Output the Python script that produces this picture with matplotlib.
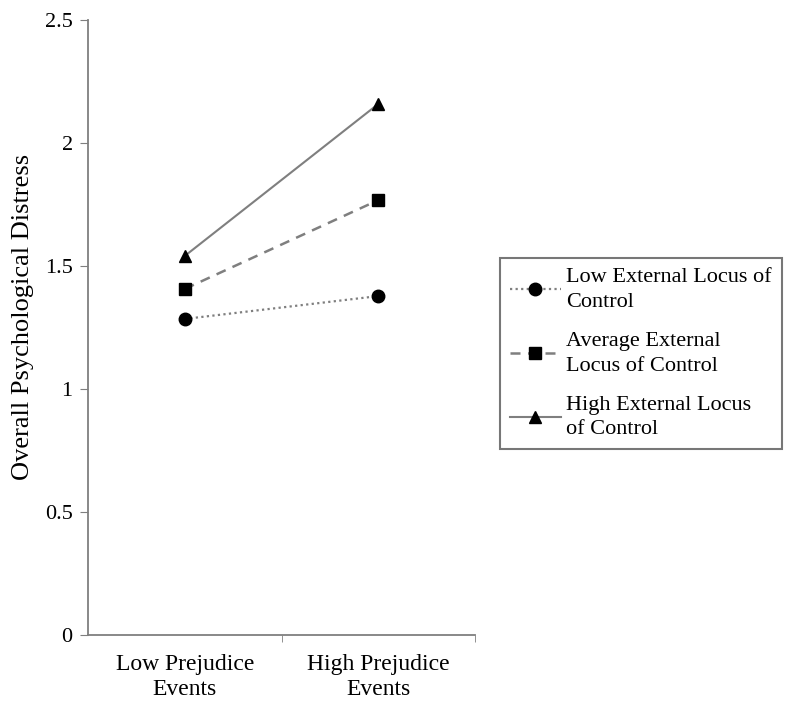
import matplotlib.pyplot as plt
import numpy as np

plt.rcParams['font.family'] = ['Liberation Serif', 'DejaVu Serif']

# datos
categorias = ['Low Prejudice\nEvents', 'High Prejudice\nEvents']
bajo = [1.285, 1.378]
promedio = [1.407, 1.768]
alto = [1.541, 2.159]
etiquetas = ['Low External Locus of\nControl',
             'Average External\nLocus of Control',
             'High External Locus\nof Control']

fig = plt.figure(figsize=(7.87, 7.02), dpi=100)
ax = fig.add_axes([0.1118, 0.0954, 0.4918, 0.876])

x = np.arange(len(categorias))
gris = '#7f7f7f'
ax.plot(x, bajo, linestyle=(0, (1, 1.5)), color=gris, lw=1.6,
        marker='o', ms=9, mfc='black', mec='black', label=etiquetas[0])
ax.plot(x, promedio, linestyle=(0, (4, 3)), color=gris, lw=1.8,
        marker='s', ms=9, mfc='black', mec='black', label=etiquetas[1])
ax.plot(x, alto, linestyle='-', color=gris, lw=1.5,
        marker='^', ms=9, mfc='black', mec='black', label=etiquetas[2])

ax.set_xlim(-0.5, 1.5)
ax.set_ylim(0, 2.5)
ax.set_yticks([0, 0.5, 1, 1.5, 2, 2.5])
ax.set_yticklabels(['0', '0.5', '1', '1.5', '2', '2.5'])
ax.set_xticks(x)
ax.set_xticklabels(categorias)
ax.tick_params(axis='x', which='major', length=0, labelsize=17, pad=14)
for t in ax.get_xticklabels():
    t.set_linespacing(1.25)
ax.set_xticks([0.5, 1.5], minor=True)
ax.tick_params(axis='x', which='minor', length=5, color=gris, direction='out')
ax.tick_params(axis='y', length=6, color=gris, labelsize=16, pad=5)
ax.set_ylabel('Overall Psychological Distress', fontsize=19)
ax.yaxis.set_label_coords(-0.14, 0.517)

for s in ['top', 'right']:
    ax.spines[s].set_visible(False)
for s in ['left', 'bottom']:
    ax.spines[s].set_color(gris)
    ax.spines[s].set_linewidth(1.3)

leg = ax.legend(loc='upper left', bbox_to_anchor=(0.635, 0.632),
                bbox_transform=fig.transFigure, fontsize=16,
                fancybox=False, handlelength=2.3, handletextpad=0.25,
                labelspacing=0.9, borderpad=0.45, borderaxespad=0)
for t in leg.get_texts():
    t.set_linespacing(1.4)
leg.get_frame().set_edgecolor('#555555')
leg.get_frame().set_linewidth(1.5)

fig.savefig('out.png', dpi=100)
